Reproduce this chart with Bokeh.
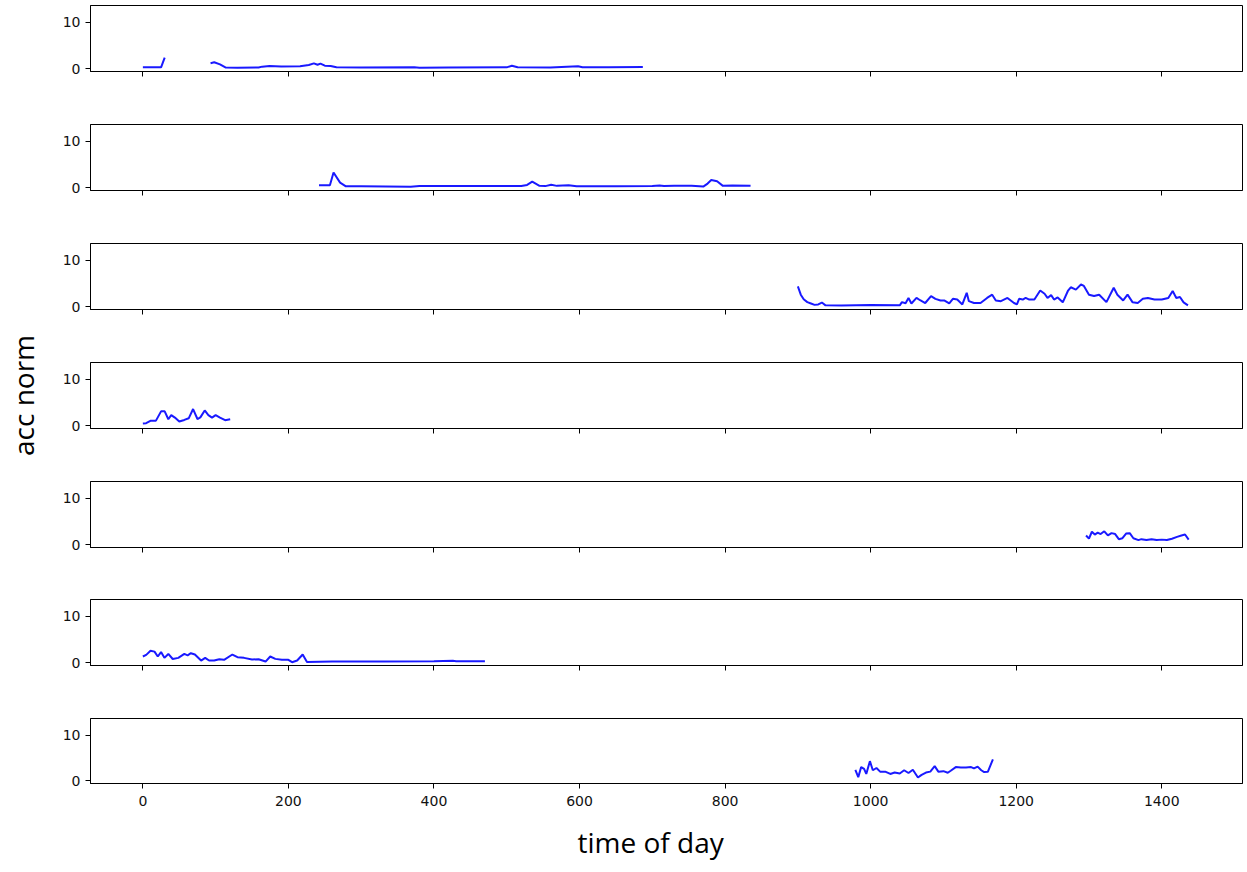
import math
from bokeh.plotting import figure
from bokeh.layouts import column
from bokeh.models import ColumnDataSource, FixedTicker, Range1d, Title
from bokeh.embed import file_html
from bokeh.resources import INLINE

nan = float("nan")

# ---- data: time of day (minutes) and acc norm per day ----
day1_t = [0, 25, 30, 60, 93, 98, 106, 114, 130, 159, 164, 174, 190, 216, 228, 235, 240, 244, 250,
          258, 266, 300, 373, 380, 420, 500, 507, 515, 560, 598, 604, 640, 687]
day1_v = [0.3, 0.3, 2.4, nan, 1.2, 1.4, 0.95, 0.25, 0.2, 0.25, 0.45, 0.6, 0.5, 0.55, 0.8, 1.15, 0.85,
          1.1, 0.65, 0.6, 0.3, 0.25, 0.3, 0.2, 0.25, 0.3, 0.65, 0.3, 0.25, 0.55, 0.3, 0.3, 0.35]

day2_t = [242, 257, 262, 271, 279, 300, 368, 380, 520, 528, 535, 545, 553, 561, 569, 585, 596, 650,
          700, 710, 716, 730, 754, 770, 776, 781, 789, 797, 810, 835]
day2_v = [0.55, 0.55, 3.3, 1.1, 0.3, 0.3, 0.2, 0.35, 0.35, 0.6, 1.3, 0.4, 0.35, 0.65, 0.4, 0.55, 0.3,
          0.3, 0.35, 0.5, 0.35, 0.45, 0.4, 0.25, 0.9, 1.65, 1.4, 0.4, 0.5, 0.4]

day3_t = [900, 904, 908, 913, 918, 923, 928, 933, 938, 960, 1000, 1040, 1043, 1048, 1052, 1056, 1063,
          1068, 1075, 1083, 1089, 1096, 1101, 1108, 1113, 1119, 1126, 1132, 1135, 1142, 1151, 1160,
          1167, 1172, 1179, 1188, 1197, 1201, 1204, 1209, 1213, 1218, 1225, 1233, 1239, 1243, 1248,
          1252, 1257, 1264, 1271, 1275, 1282, 1289, 1293, 1300, 1307, 1314, 1324, 1334, 1339, 1347,
          1353, 1360, 1367, 1374, 1381, 1390, 1400, 1409, 1415, 1420, 1425, 1430, 1436]
day3_v = [4.4, 2.6, 1.6, 1.0, 0.7, 0.4, 0.5, 0.9, 0.3, 0.25, 0.35, 0.3, 1.0, 0.75, 1.9, 0.7, 1.9,
          1.4, 0.8, 2.3, 1.7, 1.35, 1.35, 0.7, 1.7, 1.55, 0.5, 3.0, 1.2, 0.8, 0.8, 1.9,
          2.6, 1.35, 1.2, 1.9, 0.8, 0.5, 1.7, 1.55, 1.9, 1.55, 1.55, 3.5, 2.8, 1.9, 2.5,
          1.55, 2.0, 0.95, 3.4, 4.2, 3.7, 4.8, 4.5, 2.6, 2.3, 2.6, 1.0, 4.1, 2.6, 1.35,
          2.6, 0.95, 0.8, 1.7, 1.9, 1.55, 1.55, 1.9, 3.4, 1.9, 2.1, 0.95, 0.3]

day4_t = [0, 4.5, 11, 18, 25, 30, 35, 39, 44, 50, 57, 63, 69, 75, 79, 85, 90, 95, 100, 106, 113, 120]
day4_v = [0.5, 0.55, 1.1, 1.1, 3.1, 3.1, 1.4, 2.3, 1.75, 0.9, 1.25, 1.6, 3.6, 1.45, 1.8, 3.3, 2.3,
          1.75, 2.3, 1.75, 1.2, 1.4]

day5_t = [1296, 1300, 1304, 1308, 1312, 1316, 1321, 1326, 1331, 1336, 1341, 1346, 1351, 1356, 1361,
          1368, 1372, 1379, 1386, 1393, 1400, 1407, 1414, 1421, 1427, 1432, 1437]
day5_v = [2.0, 1.3, 2.8, 2.2, 2.6, 2.3, 2.9, 2.0, 2.5, 2.3, 1.2, 1.4, 2.4, 2.5, 1.4,
          1.0, 1.2, 1.0, 1.2, 1.0, 1.1, 1.0, 1.3, 1.7, 2.0, 2.2, 1.1]

day6_t = [0, 4.6, 10.5, 16, 20.5, 25, 29.6, 35, 41, 48.7, 57, 61.5, 66, 71.5, 80, 85.6, 91, 98, 105,
          111.6, 123, 130, 139, 150, 159, 168.6, 175, 182, 191, 200, 205, 212, 219.6, 225.5, 260,
          330, 400, 426, 430.5, 470]
day6_v = [1.34, 1.7, 2.6, 2.4, 1.34, 2.3, 1.05, 1.9, 0.8, 1.05, 1.9, 1.6, 2.06, 1.78, 0.47, 1.05,
          0.47, 0.47, 0.76, 0.62, 1.77, 1.2, 1.05, 0.69, 0.76, 0.25, 1.34, 0.83, 0.62, 0.62, 0.11,
          0.47, 1.78, 0.18, 0.25, 0.25, 0.3, 0.4, 0.33, 0.33]

day7_t = [979, 983, 987, 991, 994, 999, 1003, 1008, 1013, 1020, 1027, 1033, 1040, 1046, 1052, 1058,
          1065, 1070, 1076, 1082, 1088, 1093, 1100, 1106, 1110, 1117, 1124, 1131, 1138, 1142, 1147,
          1152, 1156, 1161, 1168]
day7_v = [2.4, 0.8, 3.0, 2.6, 1.5, 4.3, 2.3, 2.8, 2.0, 2.0, 1.5, 1.8, 1.6, 2.3, 1.7, 2.4,
          0.7, 1.3, 1.8, 2.0, 3.2, 2.0, 2.1, 1.75, 2.2, 3.0, 2.9, 2.9, 3.0, 2.7, 3.1,
          2.3, 1.9, 1.95, 4.7]

days = [(day1_t, day1_v), (day2_t, day2_v), (day3_t, day3_v), (day4_t, day4_v),
        (day5_t, day5_v), (day6_t, day6_v), (day7_t, day7_v)]

x_ticks = [0, 200, 400, 600, 800, 1000, 1200, 1400]
y_ticks = [0, 10]
x_label = "time of day"
y_label = "acc norm"

X_RANGE = (-71.95, 1510.95)
Y_RANGE = (-0.6, 13.65)

# canvas layout: (top border, bottom border) around a 66px frame
FRAME_H = 66
borders = [(5, 27), (26, 27), (26, 23), (30, 30), (23, 26), (26, 43), (10, 88)]
W = 1247
LEFT = 89
RIGHT = 5

figs = []
xr = Range1d(*X_RANGE)
for i, (t, v) in enumerate(days):
    last = i == len(days) - 1
    bt, bb = borders[i]
    h = bt + FRAME_H + bb
    p = figure(width=W, height=h, output_backend="svg", toolbar_location=None,
               x_range=xr, y_range=Range1d(*Y_RANGE),
               min_border_left=LEFT, min_border_right=RIGHT,
               min_border_top=bt, min_border_bottom=bb)
    src = ColumnDataSource(dict(t=t, v=v))
    p.line("t", "v", source=src, line_color="#0000ff", line_width=2.0, line_alpha=0.9)
    p.grid.visible = False
    p.outline_line_color = "black"
    p.outline_line_alpha = 1
    p.outline_line_width = 1
    p.background_fill_color = "white"
    p.border_fill_color = "white"
    for ax in (p.xaxis[0], p.yaxis[0]):
        ax.axis_line_color = "black"
        ax.major_tick_line_color = "black"
        ax.major_tick_in = 0
        ax.major_tick_out = 5
        ax.minor_tick_line_color = None
        ax.major_label_text_font = "DejaVu Sans"
        ax.major_label_text_font_size = "14px"
        ax.major_label_text_color = "#111111"
    p.xaxis.ticker = FixedTicker(ticks=x_ticks)
    p.yaxis.ticker = FixedTicker(ticks=y_ticks)
    p.yaxis.major_label_standoff = 5
    p.xaxis.major_label_standoff = 7
    if not last:
        p.xaxis.major_label_text_alpha = 0
    else:
        xt = Title(text=x_label, align="left", offset=487, standoff=24,
                   text_font="Open Sans", text_font_size="28px",
                   text_font_style="normal", text_color="black")
        p.add_layout(xt, "below")
    if i == 3:
        p.yaxis.axis_label = y_label
        p.yaxis.axis_label_text_font = "Open Sans"
        p.yaxis.axis_label_text_font_size = "28px"
        p.yaxis.axis_label_text_font_style = "normal"
        p.yaxis.axis_label_standoff = 18
        p.yaxis.axis_label_text_color = "black"
    figs.append(p)

layout = column(*figs, spacing=0)
open("out.html", "w").write(file_html(layout, INLINE))
